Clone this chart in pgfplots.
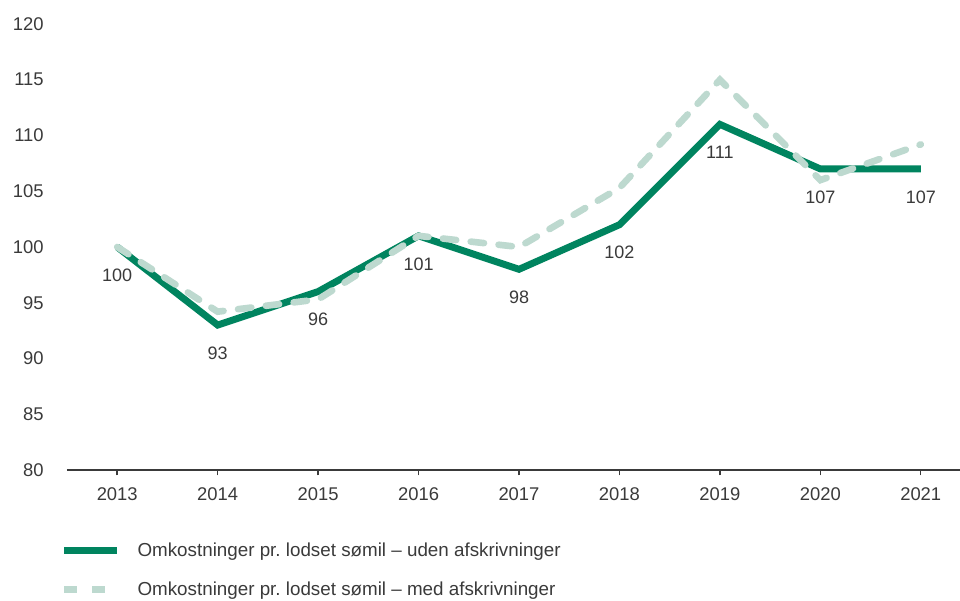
\documentclass[border=0pt]{standalone}
\usepackage{pgfplots}
\pgfplotsset{compat=1.18}
\usepackage{fontspec}
\setmainfont{Liberation Sans}
\definecolor{darkgreen}{HTML}{00845F}
\definecolor{lightgreen}{HTML}{BDD9CF}
\definecolor{txt}{HTML}{3A3A3A}

\begin{document}
\begin{tikzpicture}
  \begin{axis}[
    at={(0,0)}, anchor=south west,
    scale only axis,
    width=669.75pt, height=334.5pt,
    xmin=2012.5, xmax=2021.39,
    ymin=80, ymax=120,
    xtick={2013,...,2021},
    ytick={80,85,...,120},
    xticklabel style={/pgf/number format/1000 sep={}},
    /pgf/number format/assume math mode=true,
    axis x line*=bottom, axis y line*=left,
    y axis line style={draw=none},
    x axis line style={draw=txt, line width=1.1pt, -},
    ytick style={draw=none},
    xtick style={draw=txt, line width=1.1pt},
    tick align=outside,
    major tick length=4pt,
    tick label style={font=\fontsize{13.8pt}{16pt}\selectfont, text=txt},
    xticklabel style={yshift=-6pt},
    yticklabel style={xshift=-10pt},
    clip=false,
    legend cell align=left,
    legend style={
      at={(axis description cs:0,0)}, anchor=north west,
      xshift=-8pt, yshift=-50.5pt,
      draw=none, fill=none,
      font=\fontsize{14.1pt}{16pt}\selectfont, text=txt,
      row sep=13.5pt,
    },
    legend image code/.code={\draw[#1, line cap=butt] (0pt,0pt) -- (40pt,0pt); \path (50.5pt,0pt);},
  ]
    % uden afskrivninger
    \addplot[darkgreen, line width=5.2pt, line join=miter,
      nodes near coords,
      every node near coord/.append style={anchor=center, yshift=-21pt,
        font=\fontsize{13.5pt}{15pt}\selectfont, text=txt},
      /pgf/number format/fixed, /pgf/number format/precision=0]
      coordinates {(2013,100) (2014,93) (2015,96) (2016,101) (2017,98)
                   (2018,102) (2019,111) (2020,107) (2021,107)};
    \addlegendentry{Omkostninger pr.\ lodset sømil – uden afskrivninger}
    % med afskrivninger
    \addplot[lightgreen, line width=5pt, line cap=round,
      dash pattern=on 10pt off 11pt]
      coordinates {(2013,100) (2014,94.2) (2015,95.3) (2016,101) (2017,100)
                   (2018,105.3) (2019,115) (2020,106) (2021,109.2)};
    \addlegendentry{Omkostninger pr.\ lodset sømil – med afskrivninger}
  \end{axis}
  \pgfresetboundingbox
  \path[use as bounding box] (-50.25pt,-97.5pt) rectangle (669.75pt,352.5pt);
\end{tikzpicture}
\end{document}
